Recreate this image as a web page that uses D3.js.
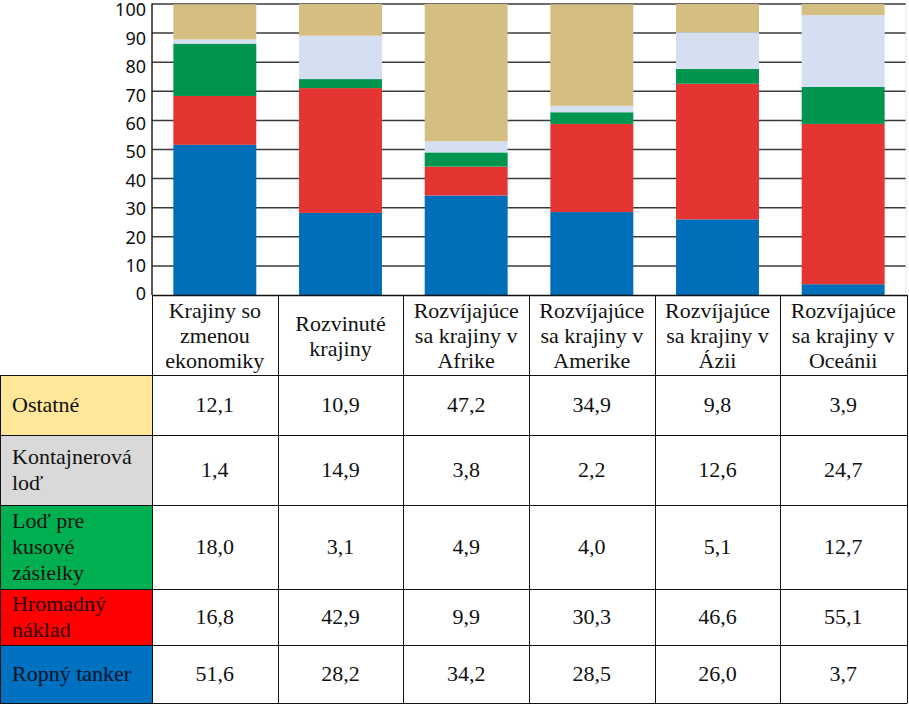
<!DOCTYPE html>
<html>
<head>
<meta charset="utf-8">
<script src="https://cdn.jsdelivr.net/npm/d3@7"></script>
</head>
<body style="margin:0">
<svg id="chart" width="909" height="705"></svg>
<script>
// ---------------- DATA ----------------
const categories = [
  "Krajiny so zmenou ekonomiky",
  "Rozvinuté krajiny",
  "Rozvíjajúce sa krajiny v Afrike",
  "Rozvíjajúce sa krajiny v Amerike",
  "Rozvíjajúce sa krajiny v Ázii",
  "Rozvíjajúce sa krajiny v Oceánii"
];
const categoryLines = [
  ["Krajiny so", "zmenou", "ekonomiky"],
  ["Rozvinuté", "krajiny"],
  ["Rozvíjajúce", "sa krajiny v", "Afrike"],
  ["Rozvíjajúce", "sa krajiny v", "Amerike"],
  ["Rozvíjajúce", "sa krajiny v", "Ázii"],
  ["Rozvíjajúce", "sa krajiny v", "Oceánii"]
];
// table order (top to bottom)
const seriesNames = ["Ostatné", "Kontajnerová loď", "Loď pre kusové zásielky", "Hromadný náklad", "Ropný tanker"];
const seriesLines = [["Ostatné"], ["Kontajnerová", "loď"], ["Loď pre", "kusové", "zásielky"], ["Hromadný", "náklad"], ["Ropný tanker"]];
const ostatne      = [12.1, 10.9, 47.2, 34.9, 9.8, 3.9];
const kontajnerova = [1.4, 14.9, 3.8, 2.2, 12.6, 24.7];
const kusove       = [18.0, 3.1, 4.9, 4.0, 5.1, 12.7];
const hromadny     = [16.8, 42.9, 9.9, 30.3, 46.6, 55.1];
const ropny        = [51.6, 28.2, 34.2, 28.5, 26.0, 3.7];
const yTicks = [0, 10, 20, 30, 40, 50, 60, 70, 80, 90, 100];

// ---------------- STYLE / LAYOUT ----------------
const barColors  = ["#D4BE82", "#D4DFF2", "#00954F", "#E53532", "#006EB9"];
const cellColors = ["#FFE699", "#D9D9D9", "#00B050", "#FF0000", "#0070C0"];
const plotLeft = 152, plotRight = 906, plotTop = 4, plotBottom = 295;
const rowEdges = [295, 375, 435, 505, 589, 645, 703];
const tableRight = 907;

const valuesBySeries = [ostatne, kontajnerova, kusove, hromadny, ropny];
const rows = categories.map((c, i) => {
  const r = { cat: c };
  seriesNames.forEach((s, j) => r[s] = valuesBySeries[j][i]);
  return r;
});

const svg = d3.select("#chart");

const x = d3.scaleBand().domain(categories).range([plotLeft, plotRight])
  .paddingInner(0.34).paddingOuter(0.17);
const xCol = d3.scaleBand().domain(categories).range([plotLeft, plotRight]).padding(0);
const y = d3.scaleLinear().domain([0, 100]).range([plotBottom, plotTop]).clamp(true);
const yLab = d3.scaleLinear().domain([0, 100]).range([294, 10]);

// gridlines
svg.append("g").selectAll("line").data(yTicks.filter(d => d > 0)).join("line")
  .attr("x1", plotLeft).attr("x2", plotRight)
  .attr("y1", d => y(d)).attr("y2", d => y(d))
  .attr("stroke", "#3a3a3a").attr("stroke-width", 1.5);

svg.append("line").attr("x1", plotRight).attr("x2", plotRight)
  .attr("y1", plotTop).attr("y2", plotBottom)
  .attr("stroke", "#dde3ee").attr("stroke-width", 1);

// stacked bars (bottom-up order)
const stackKeys = seriesNames.slice().reverse();
const stackColors = barColors.slice().reverse();
const stacked = d3.stack().keys(stackKeys)(rows);
svg.append("g").selectAll("g").data(stacked).join("g")
  .attr("fill", (d, i) => stackColors[i])
  .selectAll("rect").data(d => d).join("rect")
  .attr("x", d => x(d.data.cat))
  .attr("width", x.bandwidth())
  .attr("y", d => y(d[1]))
  .attr("height", d => y(d[0]) - y(d[1]));

// y tick labels
svg.append("g").selectAll("text").data(yTicks).join("text")
  .style("font-family", `"Noto Sans", sans-serif`, "important").style("font-size", "18px", "important")
  .attr("x", 146).attr("y", d => yLab(d))
  .attr("dy", "0.36em")
  .attr("text-anchor", "end")
  .attr("fill", "#111")
  .text(d => d);

svg.append("line").attr("x1", plotLeft).attr("x2", plotLeft)
  .attr("y1", plotTop - 0.5).attr("y2", plotBottom)
  .attr("stroke", "#222").attr("stroke-width", 1.5);

// ---------------- TABLE ----------------
function serifText(sel) {
  return sel.style("font-family", `"Liberation Serif", "Times New Roman", serif`, "important")
            .style("font-size", "22px", "important");
}

seriesNames.forEach((s, j) => {
  const top = rowEdges[j + 1], bot = rowEdges[j + 2];
  svg.append("rect").attr("x", 0.5).attr("y", top).attr("width", plotLeft - 0.5).attr("height", bot - top)
    .attr("fill", cellColors[j]);
  const lines = seriesLines[j];
  const cy = (top + bot) / 2;
  lines.forEach((ln, k) => {
    serifText(svg.append("text"))
      .attr("x", 12)
      .attr("y", cy + (k - (lines.length - 1) / 2) * 26 + 7)
      .attr("fill", j === 3 ? "#2a0000" : (j === 4 ? "#001226" : "#111"))
      .text(ln);
  });
  categories.forEach((c, i) => {
    serifText(svg.append("text"))
      .attr("x", xCol(c) + xCol.bandwidth() / 2)
      .attr("y", cy + 7)
      .attr("text-anchor", "middle")
      .attr("fill", "#111")
      .text(d3.format(".1f")(valuesBySeries[j][i]).replace(".", ","));
  });
});

categories.forEach((c, i) => {
  const lines = categoryLines[i];
  const cy = (rowEdges[0] + rowEdges[1]) / 2;
  lines.forEach((ln, k) => {
    serifText(svg.append("text"))
      .attr("x", xCol(c) + xCol.bandwidth() / 2)
      .attr("y", cy + (k - (lines.length - 1) / 2) * 25 + 8)
      .attr("text-anchor", "middle")
      .attr("fill", "#111")
      .text(ln);
  });
});

// table borders
const bs = "#111";
rowEdges.forEach((yy, k) => {
  svg.append("line")
    .attr("x1", k === 0 ? plotLeft : 0).attr("x2", tableRight)
    .attr("y1", yy + 0.5).attr("y2", yy + 0.5)
    .attr("stroke", bs).attr("stroke-width", k === 0 ? 1.5 : 1);
});
const colEdges = categories.map(c => xCol(c)).concat([tableRight]);
colEdges.forEach(xx => {
  svg.append("line")
    .attr("x1", Math.round(xx) + 0.5).attr("x2", Math.round(xx) + 0.5)
    .attr("y1", rowEdges[0]).attr("y2", rowEdges[rowEdges.length - 1] + 0.5)
    .attr("stroke", bs).attr("stroke-width", 1);
});
svg.append("line").attr("x1", 0.5).attr("x2", 0.5)
  .attr("y1", rowEdges[1]).attr("y2", rowEdges[rowEdges.length - 1] + 0.5)
  .attr("stroke", bs).attr("stroke-width", 1);
</script>
</body>
</html>
